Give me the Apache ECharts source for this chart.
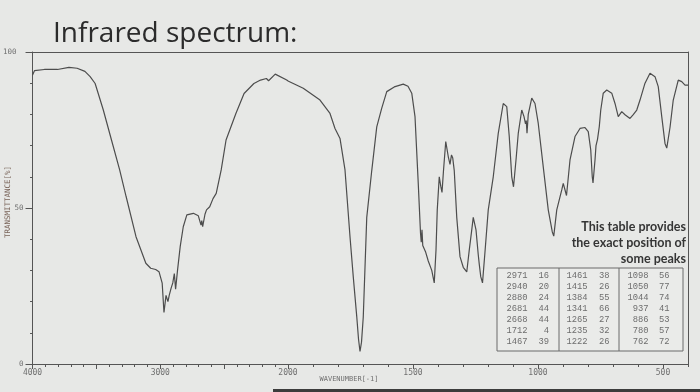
<!DOCTYPE html>
<html>
<head>
<meta charset="utf-8">
<script src="https://cdn.jsdelivr.net/npm/echarts@6/dist/echarts.min.js"></script>
<style>html,body{margin:0;padding:0;background:#e7e8e6;}#c{width:700px;height:392px;}</style>
</head>
<body>
<div id="c"></div>
<script>
// Spectrum trace (wavenumber, % transmittance)
const wavenumbers = [4000,3985,3908,3805,3715,3651,3590,3549,3510,3446,3382,3318,3267,3190,3113,3075,3036,3010,2998,2985,2971,2955,2940,2930,2915,2902,2890,2880,2865,2844,2820,2792,2741,2702,2681,2675,2668,2650,2638,2613,2587,2562,2523,2485,2408,2344,2267,2215,2169,2152,2100,2010,2000,1939,1872,1832,1812,1792,1772,1752,1739,1725,1718,1712,1706,1699,1685,1665,1645,1625,1605,1575,1552,1539,1520,1505,1492,1479,1470,1467,1464,1461,1450,1439,1425,1415,1408,1403,1395,1389,1384,1378,1369,1359,1352,1346,1341,1335,1325,1312,1299,1285,1275,1265,1259,1248,1239,1235,1229,1222,1212,1199,1179,1159,1139,1125,1115,1105,1098,1088,1079,1065,1056,1050,1047,1044,1039,1025,1012,999,979,959,943,937,925,905,899,886,872,852,832,812,799,789,783,780,772,768,762,755,749,739,725,705,692,679,665,652,632,619,605,592,572,552,532,519,505,492,485,472,459,439,425,412,400];
const transmittance = [92.6,94.0,94.4,94.4,95.1,94.8,93.8,92.1,89.9,81.4,71.8,62.2,53.6,40.8,32.3,30.7,30.3,29.6,30.1,25.9,16.5,22,20,22,24.3,26,29,24,30,37.6,44,47.8,48.3,47.5,44.5,46,44,48,49.4,50.4,53,54.7,62.2,71.8,80.3,86.7,89.9,91,91.5,90.8,92.9,91,90.7,88.4,84.6,80.3,75.5,72.3,62.2,40.8,28,15.2,8,4,7,15,47,62,76,82,87.3,88.8,89.4,89.7,89,86.8,79.3,57.9,42,39,43,38,36,33,30,26,36.5,49.4,60,57,55,62,71.3,66.5,64,67,66,62,47,34.4,31,29.5,36.5,43,47,43,35,32,28,26,36,49.4,60,73.9,83.5,82.5,72.9,60,56.8,65.4,73.9,81.4,79.3,77,78,74,80,85.2,83.5,77.1,63.2,49.4,42.4,41,49.4,55.8,57.9,54,65.4,72.9,75.5,75.8,74.5,68.6,60,58,65.4,70,72,76,81.4,86.8,87.8,86.8,83.5,79.3,80.9,79.9,78.7,79.9,81.4,84.6,90,93.2,92.1,88.9,79.3,70.7,69.2,75.8,84.6,91,90.5,89.4,89.4];

// Peak table
const peakWavenumbers = [2971,2940,2880,2681,2668,1712,1467,1461,1415,1384,1341,1265,1235,1222,1098,1050,1044,937,886,780,762];
const peakTransmittance = [16,20,24,44,44,4,39,38,26,55,66,27,32,26,56,77,74,41,53,57,72];

// Axis tick labels
const yTickLabels = [0, 50, 100];
const xTickLabelsHigh = [4000, 3000];
const xTickLabelsLow = [2000, 1500, 1000, 500];

const noteLines = ['This table provides', 'the exact position of', 'some peaks'];

const highPart = [], lowPart = [];
wavenumbers.forEach((w, i) => {
  if (w >= 2000) highPart.push([w, transmittance[i]]);
  if (w <= 2000) lowPart.push([w, transmittance[i]]);
});

const AX = '#555';
const LBL = '#6f6f6f';

// table layout
const tbl = {x: 497, y: 268, w: 186, h: 83, div1: 559, div2: 619,
  row0: 275.8, rowH: 10.9, wnRight: [527.5, 587.5, 648.5], pRight: [549, 609.5, 669.5]};
const tableEls = [
  {type: 'rect', shape: {x: tbl.x, y: tbl.y, width: tbl.w, height: tbl.h}, style: {fill: '#eaebe9', stroke: '#6a6a6a', lineWidth: 1}},
  {type: 'line', shape: {x1: tbl.div1, y1: tbl.y, x2: tbl.div1, y2: tbl.y + tbl.h}, style: {stroke: '#6a6a6a', lineWidth: 1}},
  {type: 'line', shape: {x1: tbl.div2, y1: tbl.y, x2: tbl.div2, y2: tbl.y + tbl.h}, style: {stroke: '#6a6a6a', lineWidth: 1}}
];
peakWavenumbers.forEach((w, i) => {
  const col = Math.floor(i / 7), row = i % 7;
  const yy = tbl.row0 + row * tbl.rowH;
  const st = {fontFamily: 'Liberation Mono', fontSize: 8.8, fill: '#6e6e6e', textAlign: 'right', textVerticalAlign: 'middle'};
  tableEls.push({type: 'text', x: tbl.wnRight[col], y: yy, style: Object.assign({text: String(w)}, st)});
  tableEls.push({type: 'text', x: tbl.pRight[col], y: yy, style: Object.assign({text: String(peakTransmittance[i])}, st)});
});
noteLines.forEach((t, i) => {
  tableEls.push({type: 'text', x: 686, y: 226.7 + i * 16.3, style: {text: t, fontFamily: 'Lato', fontWeight: 'bold', fontSize: 12.5, fill: '#353535', textAlign: 'right', textVerticalAlign: 'middle'}});
});

const chart = echarts.init(document.getElementById('c'), null, {renderer: 'canvas'});
chart.setOption({
  backgroundColor: '#e7e8e6',
  animation: false,
  title: [{text: 'Infrared spectrum:', left: 48, top: 15, textStyle: {fontFamily: 'Open Sans', fontWeight: 'normal', fontSize: 28, color: '#2b2b2b'}}],
  grid: [
    {left: 28, top: 52, width: 260, height: 312},
    {left: 288, top: 52, width: 400, height: 312},
    {left: 288, top: 52, width: 375, height: 312}
  ],
  xAxis: [
    {gridIndex: 0, type: 'value', inverse: true, min: 2000, max: 4000, interval: 500,
     axisLine: {show: true, lineStyle: {color: AX, width: 1}},
     axisTick: {show: true, length: 5, lineStyle: {color: AX}},
     minorTick: {show: true, splitNumber: 5, length: 3, lineStyle: {color: AX}},
     splitLine: {show: false},
     axisLabel: {margin: 5, fontFamily: 'DejaVu Sans Mono', fontSize: 8, color: LBL,
       formatter: v => xTickLabelsHigh.indexOf(v) >= 0 ? String(v) : ''}},
    {gridIndex: 0, type: 'value', position: 'top', inverse: true, min: 2000, max: 4000,
     axisLine: {show: true, lineStyle: {color: AX, width: 1}}, axisTick: {show: false}, axisLabel: {show: false}, splitLine: {show: false}},
    {gridIndex: 1, type: 'value', inverse: true, min: 400, max: 2000, interval: 100,
     axisLine: {show: true, lineStyle: {color: AX, width: 1}},
     axisTick: {show: true, length: 3, lineStyle: {color: AX}},
     axisLabel: {show: false}, splitLine: {show: false}},
    {gridIndex: 1, type: 'value', position: 'top', inverse: true, min: 400, max: 2000,
     axisLine: {show: true, lineStyle: {color: AX, width: 1}}, axisTick: {show: false}, axisLabel: {show: false}, splitLine: {show: false}},
    {gridIndex: 2, type: 'value', inverse: true, min: 500, max: 2000, interval: 500,
     axisLine: {show: false}, axisTick: {show: true, length: 5, lineStyle: {color: AX}},
     splitLine: {show: false},
     axisLabel: {margin: 5, fontFamily: 'DejaVu Sans Mono', fontSize: 8, color: LBL,
       formatter: v => xTickLabelsLow.indexOf(v) >= 0 ? String(v) : ''}}
  ],
  yAxis: [
    {gridIndex: 0, type: 'value', min: 0, max: 100, interval: 50,
     axisLine: {show: true, lineStyle: {color: AX, width: 1}},
     axisTick: {show: true, length: 7, lineStyle: {color: AX}},
     minorTick: {show: true, splitNumber: 5, length: 2.5, lineStyle: {color: AX}},
     splitLine: {show: false},
     axisLabel: {margin: 9, fontFamily: 'DejaVu Sans Mono', fontSize: 7.5, color: LBL,
       rich: {far: {fontFamily: 'DejaVu Sans Mono', fontSize: 7.5, color: LBL, padding: [0, 7, 0, 0]}},
       formatter: v => yTickLabels.indexOf(v) < 0 ? '' : (v === 100 ? '{far|100}' : String(v))}},
    {gridIndex: 1, type: 'value', position: 'right', min: 0, max: 100,
     axisLine: {show: true, lineStyle: {color: AX, width: 1}}, axisTick: {show: false}, axisLabel: {show: false}, splitLine: {show: false}},
    {gridIndex: 2, type: 'value', show: false, min: 0, max: 100}
  ],
  series: [
    {type: 'line', xAxisIndex: 0, yAxisIndex: 0, data: highPart, showSymbol: false, lineStyle: {color: '#4d4d4d', width: 1.2}},
    {type: 'line', xAxisIndex: 2, yAxisIndex: 1, data: lowPart, showSymbol: false, lineStyle: {color: '#4d4d4d', width: 1.2}}
  ],
  graphic: [
    {type: 'text', x: 8, y: 202, rotation: Math.PI / 2, style: {text: 'TRANSMITTANCE[%]', fontFamily: 'DejaVu Sans Mono', fontSize: 7.5, fill: '#7a655a', textAlign: 'center', textVerticalAlign: 'middle'}},
    {type: 'text', x: 349, y: 379, style: {text: 'WAVENUMBER[-1]', fontFamily: 'DejaVu Sans Mono', fontSize: 7, fill: LBL, textAlign: 'center', textVerticalAlign: 'middle'}},
    {type: 'rect', shape: {x: 273, y: 389, width: 427, height: 3}, style: {fill: '#3c3c3c'}},
    {type: 'group', children: tableEls}
  ]
});
</script>
</body>
</html>
